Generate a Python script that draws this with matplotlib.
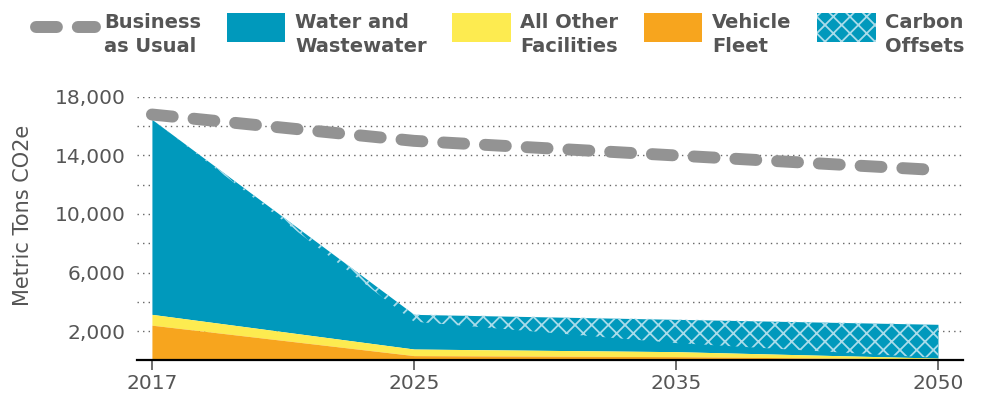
import numpy as np
import matplotlib.pyplot as plt
from matplotlib.patches import Patch, Rectangle
from matplotlib.legend_handler import HandlerPatch, HandlerLine2D

# values (metric tons CO2e)
years = ['2017', '2025', '2035', '2050']
business_as_usual = [16800, 15000, 14000, 13000]
vehicle_fleet = [2400, 320, 250, 80]
other_facilities = [740, 450, 340, 70]
water_wastewater = [13330, 1870, 590, 10]
carbon_offsets = [0, 500, 1620, 2300]

y_ticks = [2000, 6000, 10000, 14000, 18000]
y_grid = [4000, 8000, 12000, 16000]

TEAL = '#0099bc'
YELLOW = '#fdeb50'
ORANGE = '#f7a51e'
GRAY = '#939393'
TEXT = '#555555'
HATCH = '#a9dcea'

plt.rcParams['font.family'] = 'DejaVu Sans'
plt.rcParams['hatch.linewidth'] = 1.3


def legend_box(legend, orig_handle, xdescent, ydescent, width, height, fontsize):
    # taller box, sitting level with the first line of the label
    return Rectangle((-xdescent, -ydescent + 3.6), width, 21)


class RaisedLineHandler(HandlerLine2D):
    def create_artists(self, legend, orig_handle, xdescent, ydescent,
                       width, height, fontsize, trans):
        artists = super().create_artists(legend, orig_handle, xdescent, ydescent,
                                         width, height, fontsize, trans)
        for a in artists:
            a.set_ydata(np.asarray(a.get_ydata()) + 4.3)
        return artists


fig = plt.figure(figsize=(9.82, 3.99), dpi=100)
ax = fig.add_axes([0.1395, 0.097, 0.841, 0.66])

x = np.arange(len(years))
fleet_top = np.array(vehicle_fleet)
other_top = fleet_top + np.array(other_facilities)
water_top = other_top + np.array(water_wastewater)
total_top = water_top + np.array(carbon_offsets)

# teal block covers water + offsets so no seam shows between them,
# the offsets get a hatch drawn on top
ax.fill_between(x, other_top, total_top, color=TEAL, linewidth=0, zorder=2)
ax.fill_between(x, fleet_top, other_top, color=YELLOW, linewidth=0, zorder=2)
ax.fill_between(x, 0, fleet_top, color=ORANGE, linewidth=0, zorder=2)
ax.fill_between(x, water_top, total_top, facecolor='none', edgecolor=HATCH,
                hatch='xx', linewidth=0, zorder=2.5)

bau, = ax.plot(x, business_as_usual, color=GRAY, linewidth=8.6,
               linestyle=(0, (1.75, 1.75)), dash_capstyle='round',
               solid_capstyle='round', zorder=3, clip_on=False)

# axes formatting
ax.set_xlim(-0.057, 3.095)
ax.set_ylim(0, 18000)
ax.set_xticks(x)
ax.set_xticklabels(years)
ax.set_yticks(y_ticks)
ax.set_yticklabels(['{:,}'.format(v) for v in y_ticks])
ax.set_yticks(y_grid, minor=True)
ax.grid(axis='y', which='both', color='#666666', linestyle=(0, (1, 3)),
        linewidth=1.0, zorder=0)
ax.set_axisbelow(True)

for s in ['top', 'right', 'left']:
    ax.spines[s].set_visible(False)
ax.spines['bottom'].set_color('black')
ax.spines['bottom'].set_linewidth(1.6)
ax.spines['bottom'].set_zorder(4)

ax.tick_params(axis='y', which='both', length=0, pad=8, labelsize=14.5,
               labelcolor=TEXT)
ax.tick_params(axis='x', length=7, width=1.2, color='#555555', pad=3,
               labelsize=14.5, labelcolor=TEXT)

ax.set_ylabel('Metric Tons CO2e', fontsize=15, color=TEXT)
ax.yaxis.set_label_coords(-0.126, 0.552)

# legend
handles = [
    bau,
    Patch(facecolor=TEAL, linewidth=0),
    Patch(facecolor=YELLOW, linewidth=0),
    Patch(facecolor=ORANGE, linewidth=0),
    Patch(facecolor=TEAL, edgecolor=HATCH, hatch='xx', linewidth=0),
]
labels = ['Business\nas Usual', 'Water and\nWastewater', 'All Other\nFacilities',
          'Vehicle\nFleet', 'Carbon\nOffsets']
leg = fig.legend(handles, labels, loc='upper left', bbox_to_anchor=(0.037, 0.967),
                 ncol=5, frameon=False, handlelength=3.0, handleheight=1.5,
                 handletextpad=0.5, columnspacing=1.32, borderpad=0,
                 borderaxespad=0, prop={'weight': 'bold', 'size': 14},
                 handler_map={Patch: HandlerPatch(patch_func=legend_box),
                              bau: RaisedLineHandler()})
for t in leg.get_texts():
    t.set_color(TEXT)
    t.set_linespacing(1.3)

fig.savefig('out.png', dpi=100)
